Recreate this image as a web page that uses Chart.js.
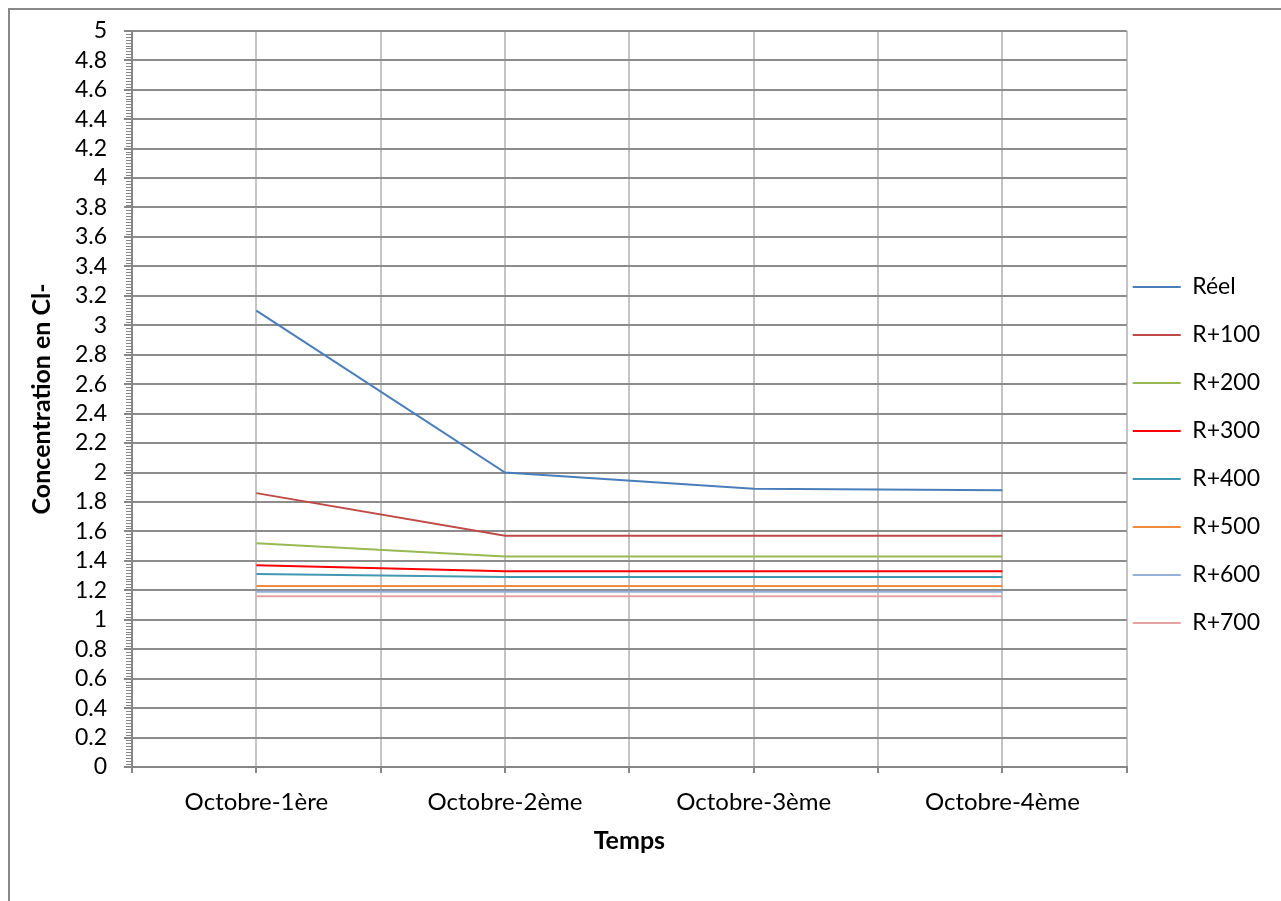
<!DOCTYPE html>
<html>
<head>
<meta charset="utf-8">
<script src="https://cdn.jsdelivr.net/npm/chart.js@4.4.1/dist/chart.umd.min.js"></script>
<style>
  html, body { margin: 0; padding: 0; background: #fff; overflow: hidden; }
  #frame { position: absolute; left: 8px; top: 8px; width: 2000px; height: 2000px;
           border-left: 2px solid #888; border-top: 2px solid #888; }
  #chart { position: absolute; left: 0; top: 0; }
</style>
</head>
<body>
<div id="frame"></div>
<canvas id="chart" width="1281" height="901"></canvas>
<script>
// Chlorure concentration per week of October
const categories = ['Octobre-1ère', 'Octobre-2ème', 'Octobre-3ème', 'Octobre-4ème'];
const reel = [3.1, 2.0, 1.89, 1.88];
const r100 = [1.86, 1.57, 1.57, 1.57];
const r200 = [1.52, 1.43, 1.43, 1.43];
const r300 = [1.37, 1.33, 1.33, 1.33];
const r400 = [1.31, 1.29, 1.29, 1.29];
const r500 = [1.23, 1.23, 1.23, 1.23];
const r600 = [1.19, 1.19, 1.19, 1.19];
const r700 = [1.16, 1.16, 1.16, 1.16];

const seriesNames = ['Réel', 'R+100', 'R+200', 'R+300', 'R+400', 'R+500', 'R+600', 'R+700'];
const seriesValues = [reel, r100, r200, r300, r400, r500, r600, r700];
const seriesColors = ['#4a7ebb', '#be4b48', '#98b954', '#ff0000', '#4198b3', '#f08a3c', '#95b0d9', '#e6a3a3'];

const axisColor = '#868686';
const titleFont = { family: 'Lato', size: 25, weight: 'bold' };

Chart.defaults.font.family = 'Lato';
Chart.defaults.color = '#000';

// small ticks between the 0.2 steps on the value axis
const minorTicks = {
  id: 'minorTicks',
  afterDraw(chart) {
    const y = chart.scales.y;
    const ctx = chart.ctx;
    ctx.save();
    ctx.strokeStyle = axisColor;
    ctx.lineWidth = 1;
    for (let i = 1; i < 250; i++) {
      if (i % 10 === 0) continue;
      const py = Math.round(y.getPixelForValue(i * 0.02)) + 0.5;
      ctx.beginPath();
      ctx.moveTo(y.right - 6, py);
      ctx.lineTo(y.right, py);
      ctx.stroke();
    }
    ctx.restore();
  }
};

const defaultLabels = Chart.defaults.plugins.legend.labels.generateLabels;

new Chart(document.getElementById('chart'), {
  type: 'line',
  data: {
    datasets: seriesNames.map((name, i) => ({
      label: name,
      data: seriesValues[i].map((v, j) => ({ x: j, y: v })),
      borderColor: seriesColors[i],
      backgroundColor: seriesColors[i],
      borderWidth: 2,
      pointRadius: 0,
      tension: 0,
      order: seriesNames.length - i
    }))
  },
  options: {
    responsive: false,
    animation: false,
    layout: { padding: { left: 0, top: 30, right: 11, bottom: 2 } },
    scales: {
      x: {
        type: 'linear',
        min: -0.5,
        max: 3.5,
        afterFit: s => { s.height = 132; },
        ticks: {
          stepSize: 0.5,
          autoSkip: false,
          maxRotation: 0,
          padding: 15,
          font: { family: 'Lato', size: 24 },
          callback: v => Number.isInteger(v) ? categories[v] : ''
        },
        grid: { color: '#c4c4c4', lineWidth: 2, tickLength: 6, tickColor: axisColor, tickWidth: 2 },
        border: { color: axisColor, width: 2 },
        title: { display: true, text: 'Temps', font: titleFont, padding: { top: 0, bottom: 43 } }
      },
      y: {
        min: 0,
        max: 5,
        afterFit: s => { s.width = 132; },
        ticks: {
          stepSize: 0.2,
          autoSkip: false,
          padding: 17,
          font: { family: 'Lato', size: 23 },
          callback: v => String(Number(v.toFixed(1)))
        },
        grid: { color: '#8c8c8c', lineWidth: 2, tickLength: 8, tickColor: axisColor, tickWidth: 2 },
        border: { color: axisColor, width: 2 },
        title: { display: true, text: 'Concentration en Cl-', font: titleFont, padding: { top: 27, bottom: 0 } }
      }
    },
    plugins: {
      tooltip: { enabled: false },
      legend: {
        position: 'right',
        align: 'center',
        labels: {
          font: { family: 'Lato', size: 23, lineHeight: 42 / 23 },
          color: '#000',
          usePointStyle: true,
          pointStyle: 'line',
          pointStyleWidth: 48,
          boxWidth: 48,
          padding: 6,
          sort: (a, b) => a.datasetIndex - b.datasetIndex,
          generateLabels: chart => defaultLabels(chart).map(item => ({ ...item, text: [item.text] }))
        }
      }
    }
  },
  plugins: [minorTicks]
});
</script>
</body>
</html>
